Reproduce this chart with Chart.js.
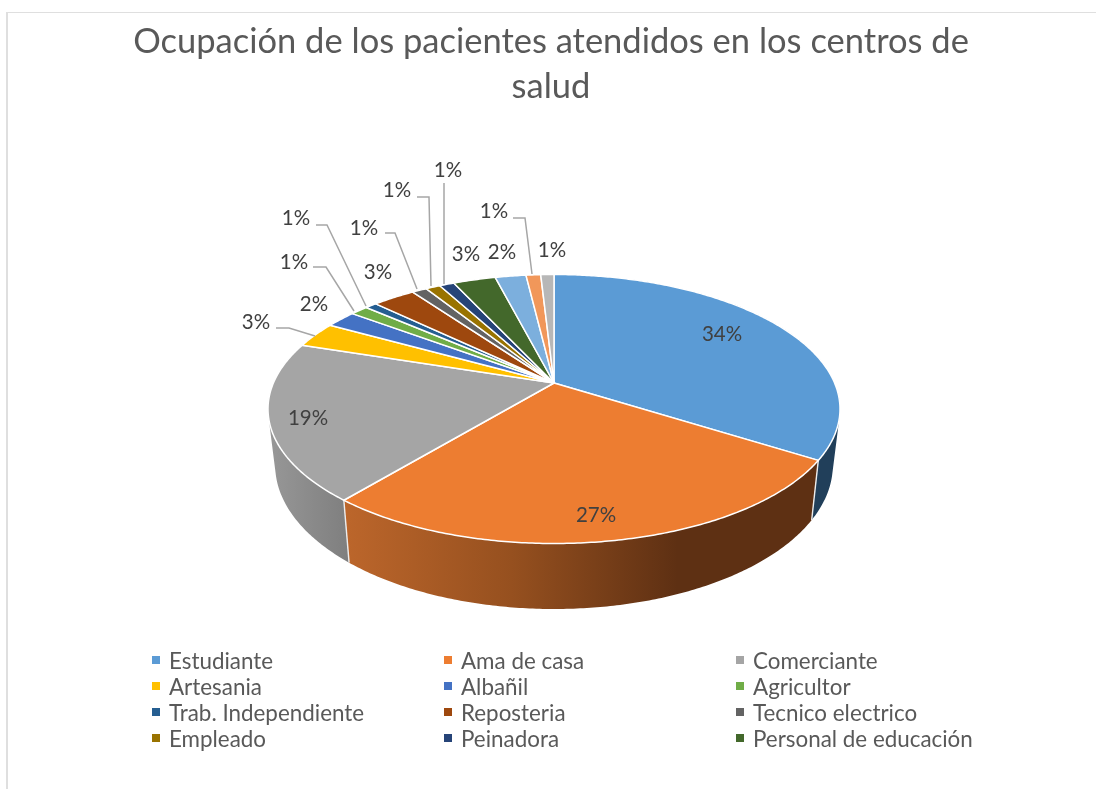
<!DOCTYPE html>
<html lang="es">
<head>
<meta charset="utf-8">
<title>Ocupación de los pacientes</title>
<script src="https://cdn.jsdelivr.net/npm/chart.js@4"></script>
<style>html,body{margin:0;padding:0;background:#fff;overflow:hidden}canvas{display:block}</style>
</head>
<body>
<canvas id="c" width="1096" height="789"></canvas>
<script>
const titleLines = ["Ocupación de los pacientes atendidos en los centros de", "salud"];
const legendCategories = ["Estudiante","Ama de casa","Comerciante","Artesania","Albañil","Agricultor","Trab. Independiente","Reposteria","Tecnico electrico","Empleado","Peinadora","Personal de educación"];
const unlistedCategories = ["Otros 1","Otros 2","Otros 3"];
const values = [34,27,19,3.1,2.1,1.2,0.8,2.9,1,1,1,2.9,2.1,1,0.9];
const percentLabels = ["34%","27%","19%","3%","2%","1%","1%","3%","1%","1%","1%","3%","2%","1%","1%"];
const colors = ["#5B9BD5","#ED7D31","#A5A5A5","#FFC000","#4472C4","#70AD47","#255E91","#9E480E","#636363","#997300","#264478","#43682B","#7CAFDD","#F1975A","#B7B7B7"];

// Label placement (text centre) and leader lines, by slice
const labelPos = [[722,334],[596,515],[308,418],[256,322],[314,304],[294,262],[296,218],[378,272],[364,228],[397,190],[448,170],[466,254],[502,252],[494,211],[552,250]];
const leaders = {3:[[276,328],[289,328],[315,336]],5:[[313,267],[326,267],[354,311]],6:[[316,225],[327,225],[366,306]],8:[[385,233],[395,233],[417,289]],9:[[417,197],[429,197],[431,286]],10:[[444,183],[444,284]],13:[[513,218],[525,218],[532,274]]};
const legendCols = [152,444,736], legendRows = [660,686,712,738];

// Perspective disc geometry
const FACE = {dx:3, ry:134.5, apexUp:26};
const BASE = {scaleX:0.975, ry:144, dy:56};
const FONT = 'Lato, Carlito, "Open Sans", sans-serif';

function project(el, angle, base){
  const x = Math.cos(angle), y = Math.sin(angle);
  const k = -FACE.apexUp/FACE.ry, w = 1 + k*y;
  const a = el.outerRadius*Math.sqrt(1-k*k)*(base?BASE.scaleX:1);
  const ry = base?BASE.ry:FACE.ry;
  const d = -k*ry;
  return [el.x + FACE.dx + a*x/w, el.y + (base?BASE.dy:0) + (ry*y - d)/w];
}
function arcPts(el, base){
  const n = Math.max(2, Math.ceil((el.endAngle-el.startAngle)/0.01));
  const pts=[];
  for(let i=0;i<=n;i++) pts.push(project(el, el.startAngle+(el.endAngle-el.startAngle)*i/n, base));
  return pts;
}
function sideFill(ctx,i){
  if(i===1){
    const g=ctx.createLinearGradient(345,0,820,0);
    g.addColorStop(0,"#BC662B");g.addColorStop(0.35,"#96501F");g.addColorStop(0.7,"#5E3013");g.addColorStop(1,"#5E3013");
    return g;
  }
  if(i===2){
    const g=ctx.createLinearGradient(270,0,351,0);
    g.addColorStop(0,"#979797");g.addColorStop(1,"#7E7E7E");
    return g;
  }
  if(i===0) return "#213F5A";
  return "#777777";
}
function signedArea(q){
  let s=0;
  q.forEach((p,i)=>{const r=q[(i+1)%q.length];s+=p[0]*r[1]-r[0]*p[1];});
  return s;
}

const disc3d = {
  id:'disc3d',
  beforeDraw(chart){
    const {ctx,width,height}=chart;
    ctx.save();
    ctx.fillStyle="#fff";ctx.fillRect(0,0,width,height);
    ctx.fillStyle="#DFDFDF";
    ctx.fillRect(6,12,2,height-12);
    ctx.fillRect(6,12,width-6,1);
    ctx.restore();
  },
  beforeDatasetDraw(chart,args){
    const {ctx}=chart;
    const arcs=chart.getDatasetMeta(args.index).data;
    ctx.save();
    // walls first: only the front of the disc remains visible
    arcs.forEach((el,i)=>{
      const t=arcPts(el,false), b=arcPts(el,true);
      ctx.fillStyle=sideFill(ctx,i);
      ctx.beginPath();
      for(let j=0;j<t.length-1;j++){
        let q=[t[j],t[j+1],b[j+1],b[j]];
        if(signedArea(q)<0) q=q.reverse();
        q.forEach((p,m)=>m?ctx.lineTo(p[0],p[1]):ctx.moveTo(p[0],p[1]));
        ctx.closePath();
      }
      ctx.fill('nonzero');
    });
    arcs.forEach(el=>{
      const t=arcPts(el,false), b=arcPts(el,true);
      ctx.strokeStyle="#EDEDED";ctx.lineWidth=1.4;
      ctx.beginPath();ctx.moveTo(t[0][0],t[0][1]);ctx.lineTo(b[0][0],b[0][1]);ctx.stroke();
    });
    // top faces
    arcs.forEach((el,i)=>{
      const apex=[el.x+FACE.dx, el.y-FACE.apexUp];
      ctx.beginPath();ctx.moveTo(apex[0],apex[1]);
      arcPts(el,false).forEach(p=>ctx.lineTo(p[0],p[1]));
      ctx.closePath();
      ctx.fillStyle=colors[i];ctx.fill();
      ctx.strokeStyle="#fff";ctx.lineWidth=1.5;ctx.lineJoin="round";ctx.stroke();
    });
    ctx.restore();
    return false;
  },
  afterDraw(chart){
    const {ctx}=chart;
    ctx.save();
    // leader lines
    ctx.strokeStyle="#A6A6A6";ctx.lineWidth=1.5;
    Object.values(leaders).forEach(l=>{
      ctx.beginPath();l.forEach((p,j)=>j?ctx.lineTo(p[0],p[1]):ctx.moveTo(p[0],p[1]));ctx.stroke();
    });
    // percentages
    ctx.font='20.5px '+FONT;ctx.fillStyle="#404040";ctx.textAlign="center";ctx.textBaseline="middle";
    percentLabels.forEach((s,i)=>ctx.fillText(s,labelPos[i][0],labelPos[i][1]));
    // legend
    ctx.textAlign="left";ctx.font='22.4px '+FONT;
    legendCategories.forEach((s,i)=>{
      const x=legendCols[i%3],y=legendRows[Math.floor(i/3)];
      ctx.fillStyle=colors[i];ctx.fillRect(x,y-4,8,8);
      ctx.fillStyle="#595959";ctx.fillText(s,x+17,y+1.5);
    });
    ctx.restore();
  }
};

new Chart(document.getElementById('c'),{
  type:'pie',
  data:{labels:legendCategories.concat(unlistedCategories),datasets:[{data:values,backgroundColor:colors,borderColor:"#fff",borderWidth:2}]},
  options:{
    responsive:false,animation:false,
    layout:{padding:{left:6,right:0,top:0,bottom:93}},
    plugins:{
      legend:{display:false},tooltip:{enabled:false},
      title:{display:true,text:titleLines,color:"#595959",font:{family:FONT,size:34.5,weight:'normal',lineHeight:1.29},padding:{top:20,bottom:13}}
    }
  },
  plugins:[disc3d]
});
</script>
</body>
</html>
